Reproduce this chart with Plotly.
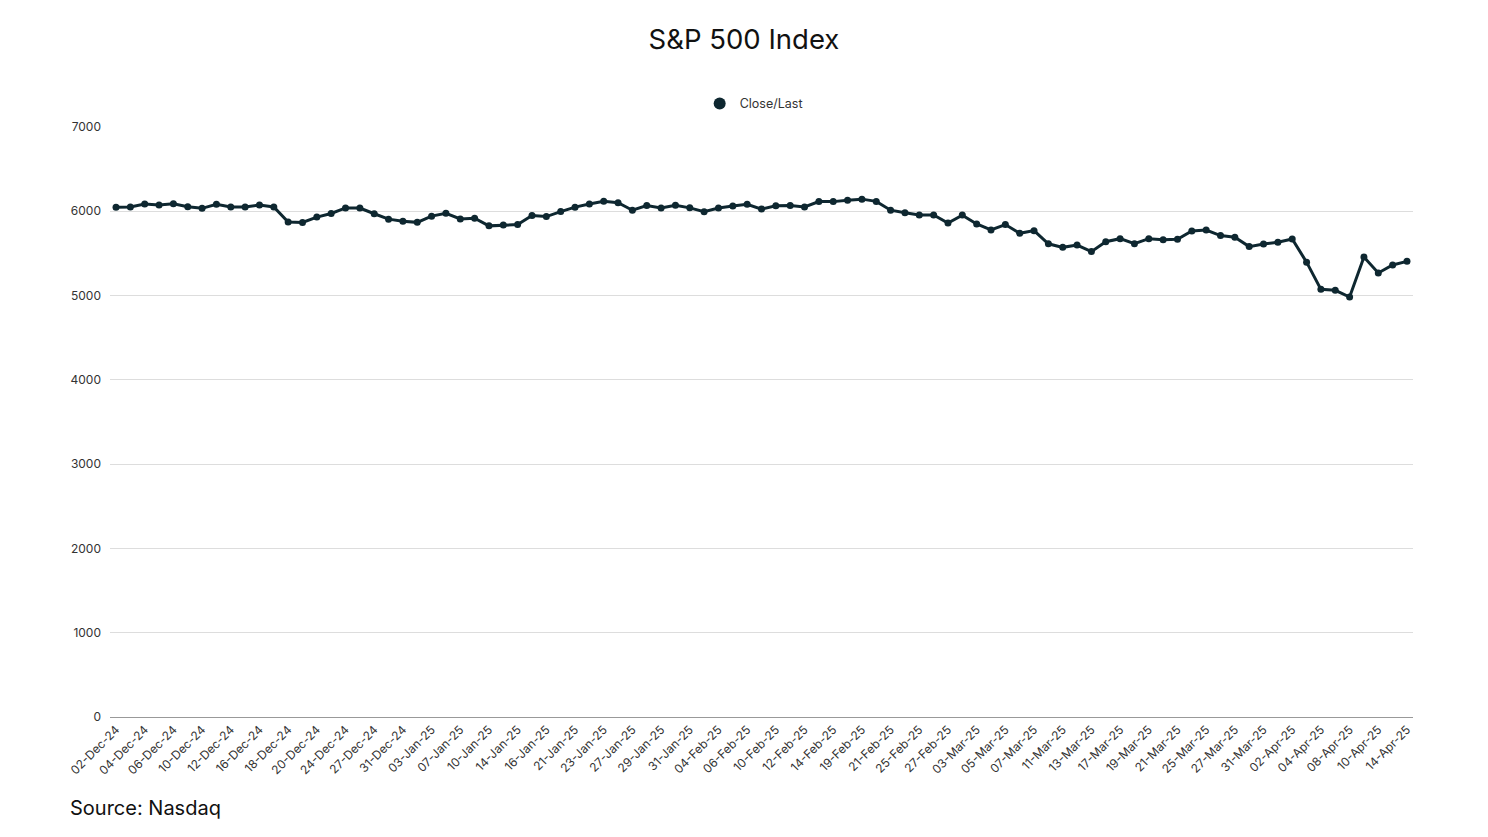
import plotly.graph_objects as go

dates = [
    "02-Dec-24", "03-Dec-24", "04-Dec-24", "05-Dec-24", "06-Dec-24", "09-Dec-24", "10-Dec-24",
    "11-Dec-24", "12-Dec-24", "13-Dec-24", "16-Dec-24", "17-Dec-24", "18-Dec-24", "19-Dec-24",
    "20-Dec-24", "23-Dec-24", "24-Dec-24", "26-Dec-24", "27-Dec-24", "30-Dec-24", "31-Dec-24",
    "02-Jan-25", "03-Jan-25", "06-Jan-25", "07-Jan-25", "08-Jan-25", "10-Jan-25", "13-Jan-25",
    "14-Jan-25", "15-Jan-25", "16-Jan-25", "17-Jan-25", "21-Jan-25", "22-Jan-25", "23-Jan-25",
    "24-Jan-25", "27-Jan-25", "28-Jan-25", "29-Jan-25", "30-Jan-25", "31-Jan-25",
    "03-Feb-25", "04-Feb-25", "05-Feb-25", "06-Feb-25", "07-Feb-25", "10-Feb-25", "11-Feb-25",
    "12-Feb-25", "13-Feb-25", "14-Feb-25", "18-Feb-25", "19-Feb-25", "20-Feb-25", "21-Feb-25",
    "24-Feb-25", "25-Feb-25", "26-Feb-25", "27-Feb-25", "28-Feb-25",
    "03-Mar-25", "04-Mar-25", "05-Mar-25", "06-Mar-25", "07-Mar-25", "10-Mar-25", "11-Mar-25",
    "12-Mar-25", "13-Mar-25", "14-Mar-25", "17-Mar-25", "18-Mar-25", "19-Mar-25", "20-Mar-25",
    "21-Mar-25", "24-Mar-25", "25-Mar-25", "26-Mar-25", "27-Mar-25", "28-Mar-25", "31-Mar-25",
    "01-Apr-25", "02-Apr-25", "03-Apr-25", "04-Apr-25", "07-Apr-25", "08-Apr-25", "09-Apr-25",
    "10-Apr-25", "11-Apr-25", "14-Apr-25",
]

close_last = [
    6047.15, 6049.88, 6086.49, 6075.11, 6090.27, 6052.85, 6034.91,
    6084.19, 6051.25, 6051.09, 6074.08, 6050.61, 5872.16, 5867.08,
    5930.85, 5974.07, 6040.04, 6037.59, 5970.84, 5906.94, 5881.63,
    5868.55, 5942.47, 5975.38, 5909.03, 5918.25, 5827.04, 5836.22,
    5842.91, 5949.91, 5937.34, 5996.66, 6049.24, 6086.37, 6118.71,
    6101.24, 6012.28, 6067.70, 6039.31, 6071.17, 6040.53,
    5994.57, 6037.88, 6061.48, 6083.57, 6025.99, 6066.44, 6068.50,
    6051.97, 6115.07, 6114.63, 6129.58, 6144.15, 6117.52, 6013.13,
    5983.25, 5955.25, 5956.06, 5861.57, 5954.50,
    5849.72, 5778.15, 5842.63, 5738.52, 5770.20, 5614.56, 5572.07,
    5599.30, 5521.52, 5638.94, 5675.12, 5614.66, 5675.29, 5662.89,
    5667.56, 5767.57, 5776.65, 5712.20, 5693.31, 5580.94, 5611.85,
    5633.07, 5670.97, 5396.52, 5074.08, 5062.25, 4982.77, 5456.90,
    5268.05, 5363.36, 5405.97,
]

tick_labels = dates[::2]
y_ticks = [0, 1000, 2000, 3000, 4000, 5000, 6000, 7000]

line_color = "#0e2730"
font_family = "Inter, Roboto, sans-serif"

fig = go.Figure()
fig.add_trace(go.Scatter(
    x=dates, y=close_last, mode="lines+markers", name="Close/Last",
    line=dict(color=line_color, width=3),
    marker=dict(color=line_color, size=7),
    showlegend=False,
))
# legend entry shown as a plain circle, as in the reference
fig.add_trace(go.Scatter(
    x=[None], y=[None], mode="markers", name="Close/Last",
    marker=dict(color=line_color, size=12), showlegend=True,
))

fig.update_layout(
    width=1488, height=837,
    paper_bgcolor="white", plot_bgcolor="white",
    margin=dict(l=102, r=83, t=119, b=128),
    font=dict(family=font_family, color="#333333", size=12),
    title=dict(text="S&P 500 Index", x=0.4946, xanchor="center", y=0.962, yanchor="middle",
               font=dict(size=27.5, color="#111111", family=font_family)),
    showlegend=True,
    legend=dict(orientation="h", x=0.494, xanchor="center", y=1.039, yanchor="middle",
                font=dict(size=12.5, color="#333333"), itemwidth=30),
    annotations=[dict(text="Source: Nasdaq", xref="paper", yref="paper", x=-0.032, y=-0.154,
                      xanchor="left", yanchor="middle", showarrow=False,
                      font=dict(size=20, color="#111111", family=font_family))],
)

fig.update_xaxes(
    type="category", range=[-0.42, len(dates) - 0.58],
    tickmode="array", tickvals=tick_labels, ticktext=tick_labels,
    tickangle=-45, showgrid=False, showline=True, linecolor="#999999", linewidth=1,
    ticks="", tickfont=dict(size=12, color="#333333"),
)
fig.update_yaxes(
    range=[0, 7000], tickvals=y_ticks, showgrid=True, gridcolor="#dddddd", gridwidth=1,
    zeroline=False, showline=False, ticks="", ticklabelstandoff=8,
    tickfont=dict(size=12, color="#333333"),
)

fig.write_html("out.html")
